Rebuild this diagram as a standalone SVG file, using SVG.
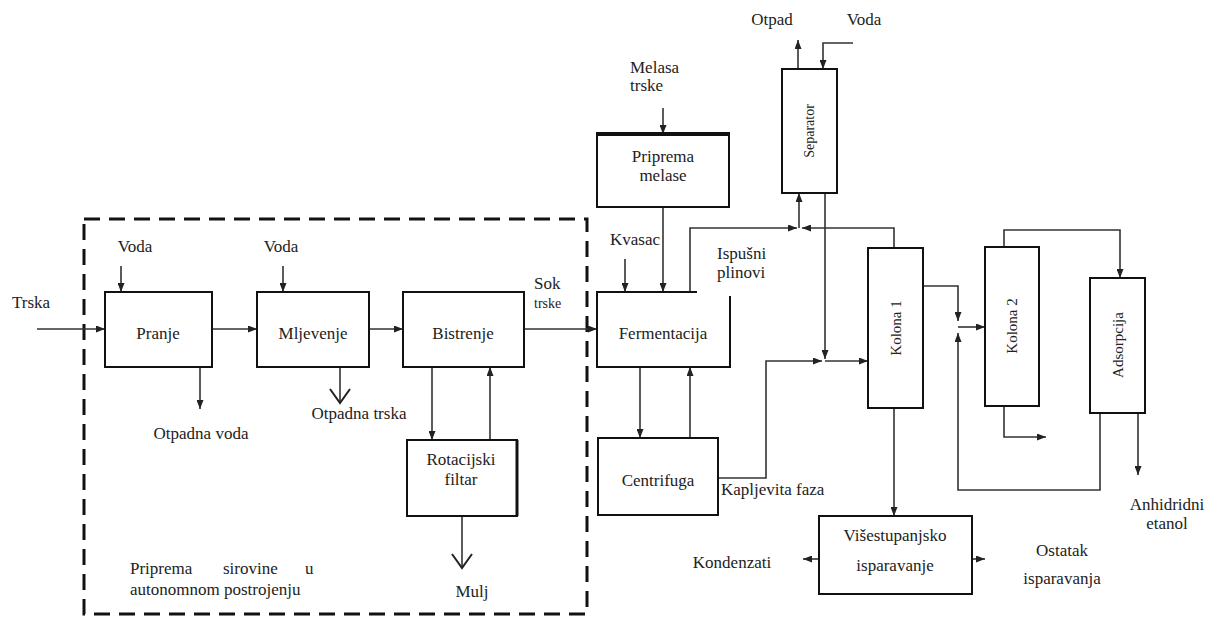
<svg xmlns="http://www.w3.org/2000/svg" width="1216" height="617" viewBox="0 0 1216 617" font-family="Liberation Serif, Times New Roman, serif">
<defs>
<marker id="arr" markerUnits="userSpaceOnUse" markerWidth="9" markerHeight="7" refX="9" refY="3.5" orient="auto"><path d="M0,0 L9,3.5 L0,7 z" fill="#222"/></marker>
<marker id="varr" markerUnits="userSpaceOnUse" markerWidth="18" markerHeight="24" refX="15" refY="11" orient="auto"><path d="M1,1 L15,11 L1,21" fill="none" stroke="#222" stroke-width="2"/></marker>
<style>
text{font-family:"Liberation Serif","Times New Roman",serif;fill:#222;font-size:17px}
.c{text-anchor:middle}
.box{fill:#fff;stroke:#111;stroke-width:2}
.con path{fill:none;stroke:#333;stroke-width:1.6}
.a{marker-end:url(#arr)}
.v{marker-end:url(#varr);stroke-width:2.4}
.sm{font-size:14px}
.col{font-size:15px}
</style>
</defs>
<rect width="1216" height="617" fill="#fff"/>
<g id="boundary">
<rect x="84" y="219" width="503" height="395" fill="none" stroke="#111" stroke-width="3" stroke-dasharray="16,9"/>
<text x="130" y="574">Priprema</text><text x="223" y="574">sirovine</text><text x="305" y="574">u</text>
<text x="130" y="595">autonomnom postrojenju</text>
</g>
<g class="con" id="connectors">
<path class="a" d="M37,329 H105"/>
<path class="a" d="M121,266 V292"/>
<path class="a" d="M283,266 V292"/>
<path class="a" d="M212,329 H257"/>
<path class="a" d="M369,329 H403"/>
<path class="a" d="M200,367 V409"/>
<path class="v" d="M340,367 V403"/>
<path class="a" d="M524,329 H597"/>
<path class="a" d="M432,367 V440"/>
<path class="a" d="M490,440 V367"/>
<path class="v" d="M462,516 V568"/>
<path class="a" d="M663,108 V134"/>
<path class="a" d="M663,207 V292"/>
<path class="a" d="M625,259 V292"/>
<path class="a" d="M640,367 V438"/>
<path class="a" d="M690,438 V367"/>
<path class="a" d="M690,292 V228 H797"/>
<path class="a" d="M894,248 V228 H802"/>
<path class="a" d="M799,228 V193"/>
<path class="a" d="M798,69 V40"/>
<path class="a" d="M853,43 H823 V69"/>
<path class="a" d="M825,193 V359"/>
<path class="a" d="M718,478 H766 V361 H822"/>
<path class="a" d="M825,361 H868"/>
<path class="a" d="M923,286 H958 V321"/>
<path class="a" d="M958,327 H985"/>
<path class="a" d="M1100,413 V490 H958 V333"/>
<path class="a" d="M1004,247 V230 H1120 V278"/>
<path class="a" d="M1004,406 V437 H1046"/>
<path class="a" d="M1138,413 V475"/>
<path class="a" d="M894,408 V516"/>
<path class="a" d="M819,559 H803"/>
<path class="a" d="M972,559 H985"/>
</g>
<g id="labels">
<text x="31" y="308" class="c">Trska</text>
<text x="135" y="252" class="c">Voda</text>
<text x="281" y="252" class="c">Voda</text>
<text x="201" y="439" class="c">Otpadna voda</text>
<text x="359" y="419" class="c">Otpadna trska</text>
<text x="472" y="597" class="c">Mulj</text>
<text x="534" y="289">Sok</text>
<text x="534" y="308" class="sm">trske</text>
<text x="610" y="245">Kvasac</text>
<text x="630" y="73">Melasa</text>
<text x="630" y="91">trske</text>
<text x="717" y="259">Ispušni</text>
<text x="717" y="278">plinovi</text>
<text x="772" y="25" class="c">Otpad</text>
<text x="864" y="25" class="c">Voda</text>
<text x="721" y="495">Kapljevita faza</text>
<text x="732" y="568" class="c">Kondenzati</text>
<text x="1062" y="556" class="c">Ostatak</text>
<text x="1062" y="584" class="c">isparavanja</text>
<text x="1167" y="510" class="c">Anhidridni</text>
<text x="1167" y="529" class="c">etanol</text>
</g>
<g id="pranje"><rect class="box" x="105" y="292" width="107" height="75"/><text x="158" y="339" class="c">Pranje</text></g>
<g id="mljevenje"><rect class="box" x="257" y="292" width="112" height="75"/><text x="313" y="339" class="c">Mljevenje</text></g>
<g id="bistrenje"><rect class="box" x="403" y="292" width="121" height="75"/><text x="463" y="339" class="c">Bistrenje</text></g>
<g id="rotacijski"><rect class="box" x="407" y="440" width="110" height="76"/><path d="M517,440 V516" stroke="#111" stroke-width="3"/><text x="461" y="465" class="c">Rotacijski</text><text x="461" y="485" class="c">filtar</text></g>
<g id="priprema-melase"><rect class="box" x="597" y="134" width="132" height="73"/><path d="M596,134 H730" stroke="#111" stroke-width="4"/><text x="663" y="162" class="c">Priprema</text><text x="663" y="181" class="c">melase</text></g>
<g id="fermentacija"><path d="M697,292 H597 V367 H730 V296" fill="#fff" stroke="#111" stroke-width="2"/><text x="663" y="339" class="c">Fermentacija</text></g>
<g id="centrifuga"><rect class="box" x="598" y="438" width="120" height="77"/><text x="658" y="486" class="c">Centrifuga</text></g>
<g id="separator"><rect class="box" x="782" y="69" width="55" height="124"/><text transform="translate(814,131) rotate(-90)" class="c" style="font-size:14px">Separator</text></g>
<g id="kolona1"><rect class="box" x="868" y="248" width="55" height="160"/><text transform="translate(901,328) rotate(-90)" class="c col">Kolona 1</text></g>
<g id="kolona2"><rect class="box" x="985" y="247" width="54" height="159"/><text transform="translate(1017,326) rotate(-90)" class="c col">Kolona 2</text></g>
<g id="adsorpcija"><rect class="box" x="1090" y="278" width="55" height="135"/><text transform="translate(1123,345) rotate(-90)" class="c col">Adsorpcija</text></g>
<g id="visestupanjsko"><rect class="box" x="819" y="516" width="153" height="78"/><text x="895" y="541" class="c">Višestupanjsko</text><text x="895" y="571" class="c">isparavanje</text></g>
</svg>
